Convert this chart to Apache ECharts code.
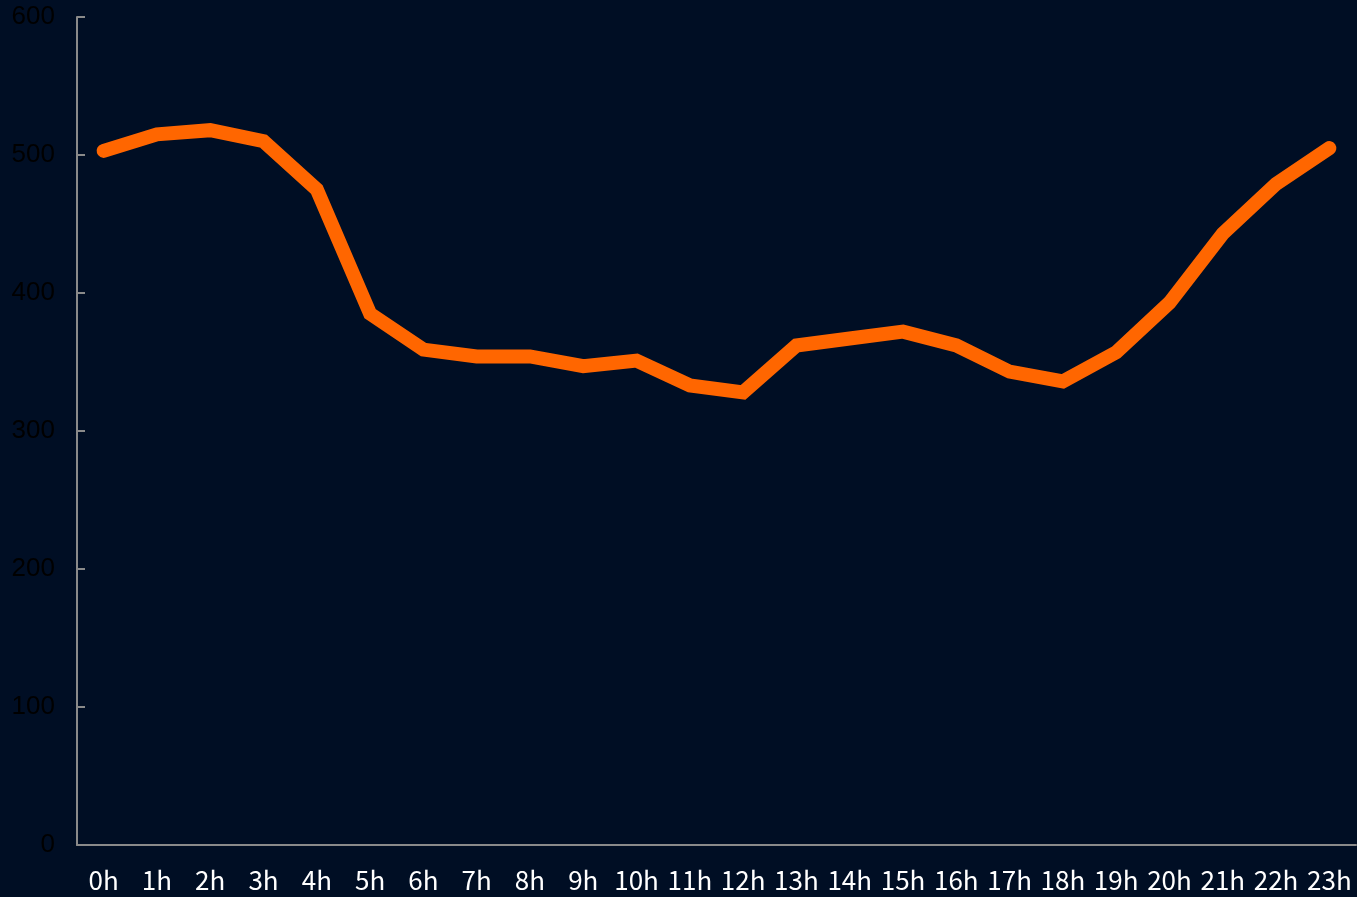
<!DOCTYPE html>
<html>
<head>
<meta charset="utf-8">
<script src="https://cdn.jsdelivr.net/npm/echarts@6/dist/echarts.min.js"></script>
<style>
    html, body { margin: 0; padding: 0; background: #000e24; }
    #chart { width: 1357px; height: 897px; }
</style>
</head>
<body>
<div id="chart"></div>
<script>
var hours = ['0h', '1h', '2h', '3h', '4h', '5h', '6h', '7h', '8h', '9h', '10h', '11h',
    '12h', '13h', '14h', '15h', '16h', '17h', '18h', '19h', '20h', '21h', '22h', '23h'];
var values = [503, 515, 518, 510, 475, 385, 359, 354, 354, 347, 351, 333,
    328, 362, 367, 372, 362, 343, 336, 357, 393, 443, 479, 505];
var yTicks = [0, 100, 200, 300, 400, 500, 600];

var myChart = echarts.init(document.querySelector("#chart"));
var option = {
    backgroundColor: '#000e24',
    animation: false,
    grid: {
        left: 77,
        right: 1,
        top: 17,
        bottom: 52
    },
    xAxis: {
        type: 'category',
        data: hours,
        boundaryGap: true,
        axisLine: {
            lineStyle: { color: '#8a8a8a', width: 2 }
        },
        axisTick: { show: false },
        axisLabel: {
            interval: 0,
            color: '#ffffff',
            fontSize: 26,
            fontFamily: 'Noto Sans CJK KR',
            margin: 22
        }
    },
    yAxis: {
        type: 'value',
        min: yTicks[0],
        max: yTicks[yTicks.length - 1],
        interval: 100,
        splitLine: { show: false },
        axisLine: {
            show: true,
            lineStyle: { color: '#8a8a8a', width: 2 }
        },
        axisTick: {
            show: true,
            inside: true,
            length: 8,
            lineStyle: { color: '#8a8a8a', width: 2 }
        },
        axisLabel: {
            color: '#000000',
            fontSize: 26,
            fontFamily: 'Liberation Sans',
            margin: 22
        }
    },
    series: [{
        type: 'line',
        data: values,
        symbol: 'none',
        lineStyle: {
            width: 14,
            color: '#ff6600',
            cap: 'round',
            join: 'miter'
        }
    }]
};
myChart.setOption(option);
</script>
</body>
</html>
